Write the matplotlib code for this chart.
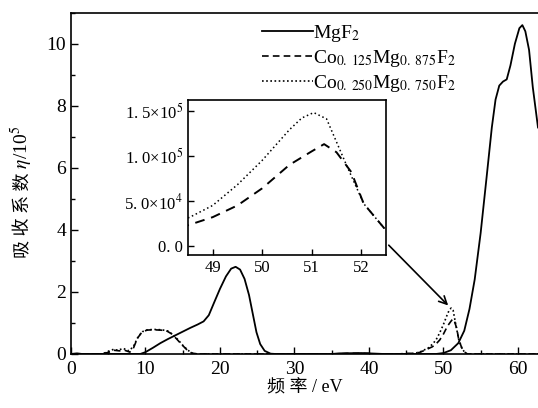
import numpy as np
import matplotlib
matplotlib.use("Agg")
import matplotlib.pyplot as plt
from matplotlib.ticker import MultipleLocator

plt.rcParams["font.family"] = ["Liberation Serif", "Noto Sans CJK SC"]
plt.rcParams["mathtext.fontset"] = "stix"

# MgF2 (solid)
mgf2_e = [0, 0.8, 1.5, 9.3, 10, 11, 12, 13, 14, 15, 16, 17, 17.8, 18.5, 19.2,
          20, 20.8, 21.5, 22.1, 22.7, 23.3, 23.9, 24.4, 24.9, 25.4, 26, 26.8,
          27.5, 35, 36, 39, 41, 42, 49, 50, 51, 52, 52.8, 53.5, 54.2, 55, 55.8,
          56.5, 57, 57.5, 58, 58.5, 59, 59.6, 60.2, 60.6, 61, 61.5, 62, 62.7]
mgf2_eta = [0, 0.02, 0, 0, 0.06, 0.2, 0.35, 0.48, 0.6, 0.72, 0.84, 0.95, 1.05,
            1.25, 1.65, 2.1, 2.5, 2.75, 2.81, 2.72, 2.42, 1.9, 1.3, 0.7, 0.32,
            0.1, 0.01, 0, 0, 0.02, 0.03, 0.01, 0, 0, 0.03, 0.12, 0.35, 0.75,
            1.45, 2.4, 3.9, 5.7, 7.3, 8.2, 8.65, 8.78, 8.85, 9.3, 10.0, 10.5,
            10.6, 10.4, 9.8, 8.6, 7.3]

# Co0.125Mg0.875F2 (dashed)
co125_e = [0, 4, 5, 5.8, 6.5, 7.2, 7.9, 8.4, 8.9, 9.5, 10.2, 11, 12, 12.8, 13.5,
           14.2, 14.8, 15.5, 16.2, 17, 36, 37, 40, 41, 44, 45, 46, 46.8, 47.5,
           48.5, 49, 49.5, 50, 50.55, 51, 51.25, 51.5, 51.8, 52.05, 52.46,
           52.8, 53.2, 62.7]
co125_eta = [0, 0, 0.05, 0.12, 0.1, 0.12, 0.06, 0.2, 0.5, 0.7, 0.77, 0.78, 0.77,
             0.75, 0.65, 0.48, 0.32, 0.15, 0.03, 0, 0, 0.02, 0.02, 0, 0, 0.02,
             0.02, 0.05, 0.12, 0.23, 0.32, 0.45, 0.64, 0.9, 1.05, 1.13, 1.04,
             0.82, 0.47, 0.2, 0.07, 0, 0]

# Co0.250Mg0.750F2 (dotted)
co250_e = [0, 4.2, 5, 5.7, 6.3, 7, 7.8, 8.4, 9, 9.6, 10.3, 11.2, 12.2, 13, 13.7,
           14.4, 15, 15.7, 16.3, 17, 44, 46, 47, 48, 48.54, 49, 49.5, 50, 50.55,
           50.8, 51.04, 51.3, 51.7, 52.05, 52.46, 52.8, 53.2, 62.7]
co250_eta = [0, 0, 0.08, 0.15, 0.12, 0.18, 0.1, 0.25, 0.55, 0.72, 0.78, 0.79,
             0.78, 0.74, 0.62, 0.45, 0.28, 0.12, 0.02, 0, 0, 0.01, 0.08, 0.2,
             0.32, 0.45, 0.68, 0.95, 1.29, 1.42, 1.48, 1.41, 0.9, 0.47, 0.2,
             0.07, 0, 0]

inset_yticks = [0, 5e4, 1e5, 1.5e5]
inset_ylabels = ["0. 0", "5. 0×10$^4$", "1. 0×10$^5$", "1. 5×10$^5$"]

labels = ["MgF$_2$", "Co$_{0.\\;125}$Mg$_{0.\\;875}$F$_2$",
          "Co$_{0.\\;250}$Mg$_{0.\\;750}$F$_2$"]

fig = plt.figure(figsize=(5.38, 4.08), dpi=100)
ax = fig.add_axes([0.132, 0.1324, 0.868, 0.8365])

ax.plot(mgf2_e, mgf2_eta, "k-", lw=1.3, label=labels[0])
ax.plot(co125_e, co125_eta, "k--", lw=1.2, dashes=(4, 2.5), label=labels[1])
ax.plot(co250_e, co250_eta, "k:", lw=1.2, dashes=(1, 1.5), label=labels[2])

ax.set_xlim(0, 62.7)
ax.set_ylim(0, 11)
ax.xaxis.set_major_locator(MultipleLocator(10))
ax.xaxis.set_minor_locator(MultipleLocator(5))
ax.yaxis.set_major_locator(MultipleLocator(2))
ax.yaxis.set_minor_locator(MultipleLocator(1))
ax.tick_params(which="both", direction="in", labelsize=14, width=1)
ax.tick_params(which="major", length=5)
ax.tick_params(which="minor", length=3)
ax.tick_params(axis="x", pad=5)
for s in ax.spines.values():
    s.set_linewidth(1.2)
ax.spines["right"].set_visible(False)

ax.set_xlabel("频 率 / eV", fontsize=13, labelpad=1)

# y label in two pieces: CJK part and math part share one baseline
fig.text(0.053, 0.576, "吸 收 系 数", rotation=90, fontsize=13,
         ha="right", va="baseline", rotation_mode="anchor")
fig.text(0.053, 0.576, " $\\eta$/10$^5$", rotation=90, fontsize=14,
         ha="left", va="baseline", rotation_mode="anchor")

leg = ax.legend(loc="upper left", bbox_to_anchor=(262 / 538, 1 - 23 / 408),
                bbox_transform=fig.transFigure, frameon=False, fontsize=14,
                handlelength=2.6, handletextpad=0.0, labelspacing=0.2,
                borderpad=0, borderaxespad=0)

# arrow from the inset to the peak near 51 eV
ax.annotate("", xy=(50.9, 1.5), xytext=(42.4, 3.57),
            arrowprops=dict(arrowstyle="->", lw=1.2, color="k",
                            mutation_scale=14))

ins = fig.add_axes([0.3494, 0.375, 0.368, 0.38])
ins.plot(co125_e, np.array(co125_eta) * 1e5, "k--", lw=1.4, dashes=(5, 3.5))
ins.plot(co250_e, np.array(co250_eta) * 1e5, "k:", lw=1.1, dashes=(1, 1.8))
ins.set_xlim(48.5, 52.5)
ins.set_ylim(-1e4, 1.62e5)
ins.set_xticks([49, 50, 51, 52])
ins.set_yticks(inset_yticks)
ins.set_yticklabels(inset_ylabels)
ins.tick_params(direction="in", labelsize=12, length=4, width=1)
for s in ins.spines.values():
    s.set_linewidth(1.2)

fig.savefig("out.png", dpi=100)
